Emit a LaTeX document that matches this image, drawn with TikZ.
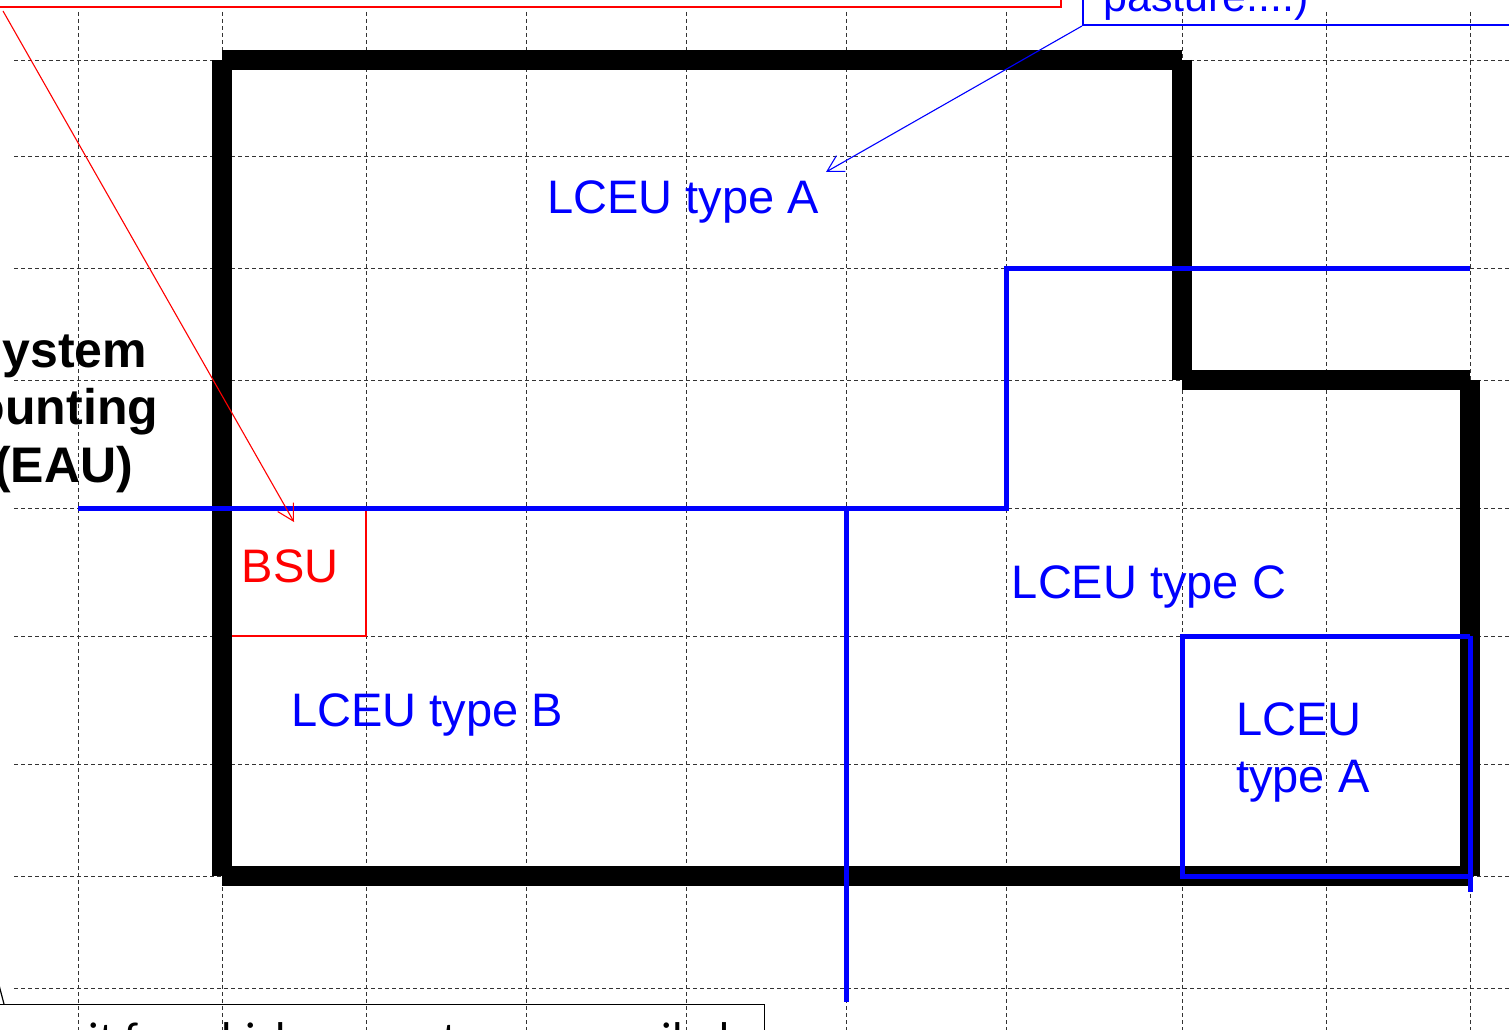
\documentclass[tikz,border=0pt]{standalone}
\usepackage{fontspec}
\setmainfont{Liberation Sans}
\newfontfamily\notefont{Carlito}
\usetikzlibrary{arrows.meta,positioning}
\definecolor{unitblue}{HTML}{0000FF}
\definecolor{unitred}{HTML}{FF0000}

\begin{document}
\begin{tikzpicture}[x=1pt, y=-1pt,
    gridline/.style={black!80, line width=0.9pt, dash pattern=on 4pt off 3pt},
    rim/.style={black, line width=20pt, line cap=butt},
    blueline/.style={unitblue, line width=5pt},
    redline/.style={unitred, line width=2.5pt},
    lceutext/.style={inner sep=0pt, text=unitblue, font=\fontsize{47}{57}\selectfont},
    bsutext/.style={inner sep=0pt, text=unitred, font=\fontsize{47}{57}\selectfont},
    eautext/.style={inner sep=0pt, align=left, font=\bfseries\fontsize{50}{57.5}\selectfont},
    callbox/.style={draw, line width=1.6pt, inner sep=0pt},
    callarrow/.style={-{Straight Barb[length=16pt, width=18pt]}, line width=1.1pt},
]
    \useasboundingbox (0,0) rectangle (1509,1030);

    % grid
    \foreach \gx in {78,222,366,526,686,846,1006,1182,1326,1470}
        \draw[gridline] (\gx,12) -- (\gx,1040);
    \foreach \gy in {60,156,268,380,508,636,764,876,988}
        \draw[gridline] (14,\gy) -- (1520,\gy);

    % ecosystem accounting unit
    \draw[rim] (222,60) -- (1182,60);
    \draw[rim] (1182,60) -- (1182,380);
    \draw[rim] (1182,380) -- (1470,380);
    \draw[rim] (1470,380) -- (1470,876);
    \draw[rim] (1470,876) -- (222,876);
    \draw[rim] (222,876) -- (222,60);

    % basic spatial unit
    \draw[redline] (366,508) -- (366,636) -- (232,636);

    % land cover units
    \draw[blueline] (78,508) -- (1006,508) -- (1006,268) -- (1470,268);
    \draw[blueline] (846,508) -- (846,1002);
    \draw[blueline] (1470,636) -- (1182,636) -- (1182,876) -- (1470,876);
    \draw[blueline] (1470,636) -- (1470,892);

    \node[lceutext, anchor=base] (lceuA) at (683,213) {LCEU type A};
    \node[lceutext, anchor=base] (lceuC) at (1149,598) {LCEU type C};
    \node[lceutext, anchor=base] (lceuB) at (427,726) {LCEU type B};
    \node[lceutext, anchor=base west, align=left] (lceuAsmall) at (1236,792) {LCEU\\type A};
    \node[bsutext, anchor=base] (bsu) at (290,582) {BSU};
    \node[eautext, anchor=base west] (eau) at (-117,482) {Ecosystem\\Accounting\\Unit (EAU)};

    % callouts
    \node[callbox, draw=unitred, anchor=south east, minimum width=1120pt, minimum height=80pt] (bsunote) at (1062,8) {};
    \coordinate (bsutail) at (3,11);
    \coordinate (bsutip) at (294,522);
    \draw[callarrow, unitred] (bsutail) -- (bsutip);

    \node[callbox, draw=unitblue, anchor=south west, minimum width=500pt, minimum height=120pt] (lceunote) at (1082,26) {};
    \node[lceutext, anchor=base west, font=\fontsize{43}{52}\selectfont] (lceunotetext) at (1103,12) {pasture....)};
    \coordinate (lceutip) at (826,172);
    \draw[callarrow, unitblue] (lceunote.south west) -- (lceutip);

    \node[callbox, draw=black, line width=1.2pt, anchor=north east, minimum width=800pt, minimum height=100pt] (eaunote) at (765,1004) {};
    \node[inner sep=0pt, anchor=base west, font=\notefont\fontsize{46}{55}\selectfont] (eaunotetext) at (40,1054) {unit for which accounts are compiled};
    \coordinate (eautail) at (-6,966);
    \coordinate (eauhead) at (4,1004);
    \draw[black, line width=1.2pt] (eautail) -- (eauhead);
\end{tikzpicture}
\end{document}
